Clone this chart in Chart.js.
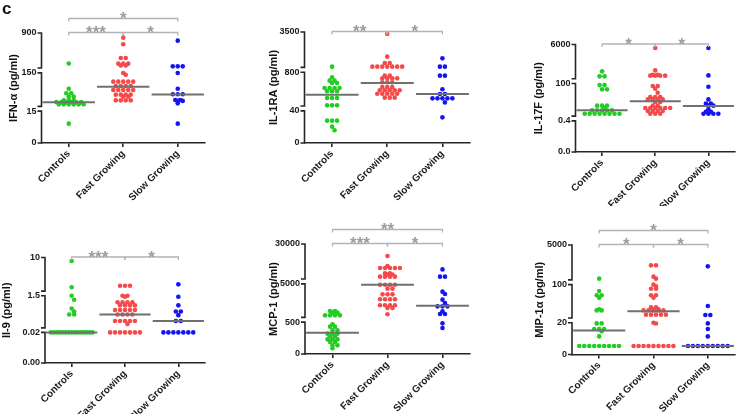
<!DOCTYPE html>
<html>
<head>
<meta charset="utf-8">
<script src="https://cdn.jsdelivr.net/npm/chart.js@4.4.1/dist/chart.umd.min.js"></script>
<style>
  html, body { margin: 0; padding: 0; background: #fff; overflow: hidden; }
  #page { position: relative; width: 740px; height: 414px; overflow: hidden; }
  #page canvas { position: absolute; }
</style>
</head>
<body>
<div id="page"></div>
<script>
/* ---------- data (pg/ml) ---------- */

const groups = ['Controls', 'Fast Growing', 'Slow Growing'];
const groupColors = ['#22cc22', '#f44a4a', '#1414f5'];

// IFN-α
const ifnTicks = [15, 150, 900];
const ifnTickLabels = ['0', '15', '150', '900'];
const ifnControls = [190, 50.5, 36.7, 36.7, 29.2, 29.2, 22.6, 22.6, 22.6, 20.2, 20.2, 20.2, 20.2, 20.2, 20.2, 17.2, 17.2, 17.2, 17.2, 17.2, 17.2, 9.1];
const ifnFast = [710, 506, 251, 251, 188, 188, 188, 172, 172, 148, 132, 82, 82, 82, 82, 82, 61, 61, 61, 61, 46, 46, 46, 46, 46, 33.5, 33.5, 33.5, 33.5, 29.2, 29.2, 22.6, 22.6, 22.6, 22.6];
const ifnSlow = [609, 164, 164, 164, 148, 50.5, 34.3, 34.3, 34.3, 23.2, 23.2, 21.8, 21.8, 18.4, 9.1];
const ifnMedians = [19.8, 58, 34];
const ifnBrackets = [[0, 1, 0, '***'], [1, 2, 0, '*'], [0, 2, 1, '*']];

// IL-1RA
const ilraTicks = [40, 800, 3500];
const ilraTickLabels = ['0', '40', '800', '3500'];
const ilraControls = [825, 508, 378, 378, 308, 308, 198, 198, 198, 198, 147, 147, 147, 81, 81, 81, 42.4, 42.4, 42.4, 27.8, 27.8, 27.8, 20.3, 15.8];
const ilraFast = [3226, 1251, 962, 962, 825, 825, 825, 825, 825, 825, 825, 589, 589, 464, 464, 464, 464, 327, 327, 327, 216, 216, 216, 161, 161, 161, 161, 161, 119, 119, 119, 119, 119, 84, 84, 84];
const ilraSlow = [1167, 825, 825, 589, 589, 176, 116, 116, 79, 79, 79, 79, 79, 55, 31.9];
const ilraMedians = [109, 308, 116];
const ilraBrackets = [[0, 1, 0, '**'], [1, 2, 0, '*']];

// IL-17F
const il17Ticks = [0.4, 100, 6000];
const il17TickLabels = ['0.0', '0.4', '100', '6000'];
const il17Controls = [243, 134, 134, 76, 76, 37, 37, 2.35, 2.35, 2.35, 1.62, 1.07, 1.07, 1.07, 1.07, 1.07, 0.6, 0.6, 0.6, 0.6, 0.6, 0.6, 0.6, 0.6];
const il17Fast = [3950, 274, 160, 160, 145, 145, 145, 145, 65, 65, 41, 21, 10.2, 10.2, 10.2, 6.8, 6.8, 6.8, 6.8, 4.4, 4.4, 2.35, 2.35, 1.6, 1.6, 1.6, 1.6, 1.6, 1.6, 0.96, 0.96, 0.96, 0.96, 0.6, 0.6, 0.6];
const il17Slow = [3950, 150, 58, 6.8, 3.3, 3.3, 2.35, 2.35, 1.27, 0.85, 0.85, 0.6, 0.6, 0.6, 0.6];
const il17Medians = [1.07, 4.9, 2.2];
const il17Brackets = [[0, 1, 0, '*'], [1, 2, 0, '*']];

// Il-9
const il9Ticks = [0.02, 1.5, 10];
const il9TickLabels = ['0.00', '0.02', '1.5', '10'];
const il9Controls = [8.2, 1.86, 1.5, 0.88, 0.27, 0.18, 0.12, 0.12, 0.02, 0.02, 0.02, 0.02, 0.02, 0.02, 0.02, 0.02, 0.02, 0.02, 0.02, 0.02, 0.02, 0.02, 0.02];
const il9Fast = [2.04, 2.04, 2.04, 1.5, 1.5, 1.32, 0.62, 0.62, 0.62, 0.62, 0.41, 0.41, 0.41, 0.41, 0.22, 0.22, 0.22, 0.22, 0.22, 0.12, 0.12, 0.12, 0.12, 0.05, 0.05, 0.05, 0.05, 0.05, 0.034, 0.02, 0.02, 0.02, 0.02, 0.02, 0.02, 0.02];
const il9Slow = [2.2, 1.32, 0.41, 0.18, 0.18, 0.11, 0.05, 0.05, 0.02, 0.02, 0.02, 0.02, 0.02, 0.02, 0.02];
const il9Medians = [0.02, 0.12, 0.05];
const il9Brackets = [[0, 1, 0, '***'], [1, 2, 0, '*']];

// MCP-1
const mcpTicks = [500, 5000, 30000];
const mcpTickLabels = ['0', '500', '5000', '30000'];
const mcpControls = [774, 774, 689, 689, 574, 574, 574, 574, 465, 429, 429, 371, 371, 319, 319, 319, 277, 277, 230, 230, 230, 188, 188, 136, 136, 89];
const mcpFast = [16250, 9760, 8800, 8800, 8800, 8800, 8800, 6700, 6700, 6300, 6300, 5660, 5660, 5660, 5660, 4700, 4700, 4700, 4700, 3590, 3590, 2430, 2430, 2430, 1727, 1727, 1727, 1727, 1143, 1143, 1143, 1143, 950, 950, 615];
const mcpSlow = [8200, 5660, 5660, 2925, 2490, 1687, 1340, 1066, 1066, 1066, 755, 630, 630, 481, 408];
const mcpMedians = [335, 4700, 1100];
const mcpBrackets = [[0, 1, 0, '***'], [1, 2, 0, '*'], [0, 2, 1, '**']];

// MIP-1α
const mipTicks = [20, 100, 5000];
const mipTickLabels = ['0', '20', '100', '5000'];
const mipControls = [115, 73.6, 59.8, 59.8, 53.4, 30.5, 28.9, 28.9, 19.6, 19.6, 16.1, 16.1, 16.1, 14.6, 11.4, 5.4, 5.4, 5.4, 5.4, 5.4, 5.4, 5.4, 5.4, 5.4];
const mipFast = [511, 511, 144, 115, 100, 92, 82, 82, 59.8, 59.8, 53.4, 33.4, 33.4, 30.4, 30.4, 28.9, 28.9, 28.9, 28.9, 28.9, 23.5, 23.5, 23.5, 23.5, 23.5, 20, 19.5, 5.4, 5.4, 5.4, 5.4, 5.4, 5.4, 5.4, 5.4, 5.4];
const mipSlow = [458, 35.7, 23.1, 23.1, 19.6, 16.1, 11.4, 5.4, 5.4, 5.4, 5.4, 5.4, 5.4, 5.4, 5.4, 5.4];
const mipMedians = [15.2, 27.6, 5.4];
const mipBrackets = [[0, 1, 0, '*'], [1, 2, 0, '*'], [0, 2, 1, '*']];

/* ---------- panel layout (page px) ---------- */

const panels = [
  { title: 'IFN-\u03B1 (pg/ml)', ticks: ifnTicks, labels: ifnTickLabels, series: [ifnControls, ifnFast, ifnSlow], medians: ifnMedians, brackets: ifnBrackets,
    area: { l: 41.5, t: 33, r: 206, b: 143 }, titleX: 14, tag: 'c', maxBottom: 205 },
  { title: 'IL-1RA (pg/ml)', ticks: ilraTicks, labels: ilraTickLabels, series: [ilraControls, ilraFast, ilraSlow], medians: ilraMedians, brackets: ilraBrackets,
    area: { l: 304.5, t: 32, r: 471, b: 143 }, titleX: 273.5, maxBottom: 205 },
  { title: 'IL-17F (pg/ml)', ticks: il17Ticks, labels: il17TickLabels, series: [il17Controls, il17Fast, il17Slow], medians: il17Medians, brackets: il17Brackets,
    area: { l: 575.5, t: 44.5, r: 736, b: 152 }, titleX: 538.5, maxBottom: 206 },
  { title: 'Il-9 (pg/ml)', ticks: il9Ticks, labels: il9TickLabels, series: [il9Controls, il9Fast, il9Slow], medians: il9Medians, brackets: il9Brackets,
    area: { l: 45, t: 257.5, r: 206, b: 363 }, titleX: 7, maxBottom: 414 },
  { title: 'MCP-1 (pg/ml)', ticks: mcpTicks, labels: mcpTickLabels, series: [mcpControls, mcpFast, mcpSlow], medians: mcpMedians, brackets: mcpBrackets,
    area: { l: 305, t: 244, r: 471, b: 354 }, titleX: 274, maxBottom: 414 },
  { title: 'MIP-1\u03B1 (pg/ml)', ticks: mipTicks, labels: mipTickLabels, series: [mipControls, mipFast, mipSlow], medians: mipMedians, brackets: mipBrackets,
    area: { l: 572, t: 245, r: 736, b: 354.5 }, titleX: 540, maxBottom: 414 },
];

/* ---------- segmented (broken) y axis ---------- */

// axis units: [0,1] linear 0..t1, gap, [1.15,2.2] log t1..t2, gap, [2.35,3.45] log t2..t3
const SEG = [[0, 1], [1.15, 2.2], [2.35, 3.45]];
const TOP = 3.45;
const TICK_POS = [0, 1, 2.2, 3.45];

function toU(v, t) {
  if (v <= t[0]) return SEG[0][1] * v / t[0];
  if (v <= t[1]) return SEG[1][0] + (SEG[1][1] - SEG[1][0]) * Math.log(v / t[0]) / Math.log(t[1] / t[0]);
  return SEG[2][0] + (SEG[2][1] - SEG[2][0]) * Math.log(v / t[1]) / Math.log(t[2] / t[1]);
}

/** Column-scatter layout: equal values sit on one row, centred; close rows interleave. */
function swarm(values, t, pxX, pxU) {
  const rows = [];
  values.forEach((v) => {
    const r = rows.find((q) => q.v === v);
    if (r) r.n++; else rows.push({ v, n: 1 });
  });
  const offsets = {};
  let prev = null;
  rows.forEach((r) => {
    const y = toU(r.v, t) * pxU;
    const D = r.n > 1 ? Math.min(5, 42 / (r.n - 1)) : 5;
    let shift = 0;
    if (prev && Math.abs(prev.y - y) < 4.6 && prev.n % 2 === r.n % 2 && prev.shift === 0) shift = D / 2;
    offsets[r.v] = [];
    for (let k = 0; k < r.n; k++) offsets[r.v].push(((k - (r.n - 1) / 2) * D + shift) / pxX);
    prev = { y, n: r.n, shift };
  });
  const used = {};
  return values.map((v) => {
    used[v] = used[v] || 0;
    return offsets[v][used[v]++];
  });
}

const FONT = "'Liberation Sans', Arial, sans-serif";

function decorPlugin(p, left, top) {
  return {
    id: 'decor',
    afterDraw(chart) {
      const { ctx, chartArea } = chart;
      const ys = chart.scales.y;
      const xs = chart.scales.x;
      const x0 = chartArea.left;
      ctx.save();
      // broken y axis: three pieces with end caps
      ctx.strokeStyle = '#262626';
      ctx.lineWidth = 1.6;
      SEG.forEach(([a, b]) => {
        const ya = ys.getPixelForValue(a);
        const yb = ys.getPixelForValue(b);
        ctx.beginPath();
        ctx.moveTo(x0 - 4, ya);
        ctx.lineTo(x0, ya);
        ctx.lineTo(x0, yb);
        ctx.lineTo(x0 - 4, yb);
        ctx.stroke();
      });
      // significance brackets
      ctx.strokeStyle = '#b4b4b4';
      ctx.lineWidth = 1.3;
      ctx.fillStyle = '#9c9c9c';
      ctx.font = 'bold 17px ' + FONT;
      ctx.textAlign = 'center';
      p.brackets.forEach(([a, b, level, txt]) => {
        const y = chartArea.top - 0.5 - level * 14;
        const xa = xs.getPixelForValue(a);
        const xb = xs.getPixelForValue(b);
        ctx.beginPath();
        ctx.moveTo(xa, y + 3);
        ctx.lineTo(xa, y);
        ctx.lineTo(xb, y);
        ctx.lineTo(xb, y + 3);
        ctx.stroke();
        ctx.fillText(txt, (xa + xb) / 2, y + 5.5);
      });
      // panel letter
      if (p.tag) {
        ctx.fillStyle = '#111';
        ctx.textAlign = 'left';
        ctx.fillText(p.tag, 2 - left, 13.5 - top);
      }
      ctx.restore();
    },
  };
}

const page = document.getElementById('page');
const PAD_TOP = 38, PAD_RIGHT = 3, X_AXIS_H = 60;

panels.forEach((p) => {
  const a = p.area;
  const left = p.tag ? 0 : Math.round(p.titleX - 6.6);
  const titlePad = p.titleX - 6.6 - left;
  const top = p.tag ? 0 : Math.round(a.t - PAD_TOP);
  const width = Math.min(740 - left, Math.ceil(a.r + PAD_RIGHT - left));
  const height = Math.min(p.maxBottom - top, Math.ceil(a.b + X_AXIS_H - top));
  const yW = a.l - left;
  const xH = top + height - a.b;

  const cv = document.createElement('canvas');
  cv.width = width;
  cv.height = height;
  cv.style.left = left + 'px';
  cv.style.top = top + 'px';
  page.appendChild(cv);

  const pxX = (a.r - a.l) / 3;
  const pxU = (a.b - a.t) / TOP;

  const datasets = [];
  p.series.forEach((vals, g) => {
    const off = swarm(vals, p.ticks, pxX, pxU);
    datasets.push({
      data: vals.map((v, i) => ({ x: g + off[i], y: toU(v, p.ticks) })),
      backgroundColor: groupColors[g],
      pointBorderWidth: 0,
      pointRadius: 2.3,
      order: 2,
    });
    const m = toU(p.medians[g], p.ticks);
    datasets.push({
      data: [{ x: g - 0.48, y: m }, { x: g + 0.48, y: m }],
      showLine: true,
      borderColor: '#707070',
      borderWidth: 2,
      pointRadius: 0,
      order: 1,
    });
  });

  new Chart(cv, {
    type: 'scatter',
    data: { datasets },
    options: {
      responsive: false,
      animation: false,
      events: [],
      layout: { padding: { top: a.t - top, right: width - (a.r - left), left: 0, bottom: 0 } },
      plugins: { legend: { display: false }, tooltip: { enabled: false } },
      scales: {
        x: {
          type: 'linear',
          min: -0.5,
          max: 2.5,
          afterBuildTicks: (s) => { s.ticks = [0, 1, 2].map((v) => ({ value: v })); },
          afterFit: (s) => { s.height = xH; },
          ticks: {
            callback: (v) => groups[v],
            autoSkip: false,
            minRotation: 45,
            maxRotation: 45,
            padding: 1,
            color: '#1a1a1a',
            font: { family: FONT, size: 10, weight: 'bold' },
          },
          grid: { drawOnChartArea: false, drawTicks: true, tickLength: 4, color: '#262626', lineWidth: 1.6 },
          border: { display: true, color: '#262626', width: 1.6 },
        },
        y: {
          min: 0,
          max: TOP,
          afterBuildTicks: (s) => { s.ticks = TICK_POS.map((v) => ({ value: v })); },
          afterFit: (s) => { s.width = yW; },
          ticks: {
            callback: (v, i) => p.labels[i],
            padding: 5,
            color: '#1a1a1a',
            font: { family: FONT, size: 9, weight: 'bold' },
          },
          grid: { display: false, drawTicks: false },
          border: { display: false },
          title: {
            display: true,
            text: p.title,
            color: '#111',
            padding: { top: titlePad, bottom: 0 },
            font: { family: FONT, size: 11, weight: 'bold' },
          },
        },
      },
    },
    plugins: [decorPlugin(p, left, top)],
  });
});
</script>
</body>
</html>
